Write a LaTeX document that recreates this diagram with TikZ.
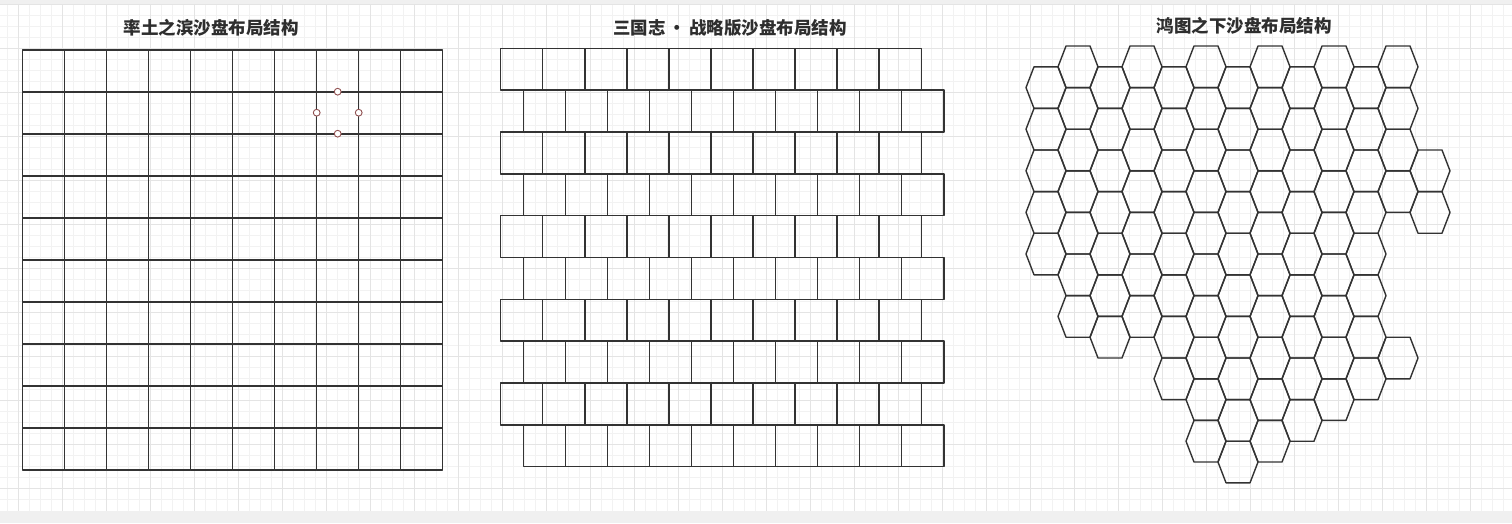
\documentclass[tikz,border=0pt]{standalone}
\usepackage{fontspec}
\newfontfamily\cjk{Noto Sans CJK SC}
\definecolor{ln}{HTML}{333333}
\definecolor{gminor}{HTML}{F2F2F2}
\definecolor{gmajor}{HTML}{E4E4E4}
\definecolor{band}{HTML}{F0F0F0}
\definecolor{ptc}{HTML}{8F4F4F}
\definecolor{txt}{HTML}{2E2E2E}
\begin{document}
\begin{tikzpicture}[x=1pt,y=-1pt,line join=round,
  cell/.style={draw=ln,line width=1.4pt},
  minorline/.style={draw=gminor,line width=0.9pt},
  majorline/.style={draw=gmajor,line width=1pt},
  ptcircle/.style={draw=ptc,fill=white,line width=0.9pt},
  ttl/.style={font=\cjk\bfseries\fontsize{17.5}{20}\selectfont,text=txt,inner sep=0pt},
  hex/.pic={\path[cell] (0,20.8) -- (8,0) -- (32,0) -- (40,20.8) -- (32,41.6) -- (8,41.6) -- cycle;}]
\fill[white] (0,0) rectangle (1512,523);
\useasboundingbox (0,0) rectangle (1512,523);
% background grid
\foreach \k in {0,...,136} \draw[minorline] ({7.7+11*\k},4) -- ({7.7+11*\k},510.7);
\foreach \k in {0,...,45} \draw[minorline] (0,{4.3+11*\k}) -- (1512,{4.3+11*\k});
\foreach \k in {0,...,33} \draw[majorline] ({18.7+44*\k},4) -- ({18.7+44*\k},510.7);
\foreach \k in {0,...,11} \draw[majorline] (0,{4.3+44*\k}) -- (1512,{4.3+44*\k});
\fill[band] (0,0) rectangle (1512,3.5);
\fill[band] (0,510.7) rectangle (1512,523);
% titles
\node[ttl] (t1) at (211,28) {率土之滨沙盘布局结构};
\node[ttl] (t2) at (730,28) {三国志\,•\,战略版沙盘布局结构};
\node[ttl] (t3) at (1244,26) {鸿图之下沙盘布局结构};
% square grid
\foreach \i in {0,...,9} \foreach \j in {0,...,9}
  \draw[cell] ({22.7+42*\i},{50+42*\j}) rectangle ++(42,42);
\draw[ptcircle] (337.7,91.7) circle (3.4);
\draw[ptcircle] (316.7,112.7) circle (3.4);
\draw[ptcircle] (358.7,112.7) circle (3.4);
\draw[ptcircle] (337.7,133.7) circle (3.4);
% brick grid
\foreach \j in {0,...,9} {
  \pgfmathsetmacro{\xo}{isodd(\j) ? 523.3 : 500.7}
  \foreach \i in {0,...,9}
    \draw[cell] ({\xo+42.05*\i},{48.3+41.84*\j}) rectangle ++(42.05,41.84);
}
% hex grid
\foreach \c/\rs in {0/{0,1,2,3,4},1/{0,1,2,3,4,5,6},2/{0,1,2,3,4,5,6},3/{0,1,2,3,4,5,6},
  4/{0,1,2,3,4,5,6,7},5/{0,1,2,3,4,5,6,7,8,9},6/{0,1,2,3,4,5,6,7,8,9},7/{0,1,2,3,4,5,6,7,8,9},
  8/{0,1,2,3,4,5,6,7,8},9/{0,1,2,3,4,5,6,7,8},10/{0,1,2,3,4,5,6,7},11/{0,1,2,3,7},12/{2,3}} {
  \foreach \r in \rs {
    \pgfmathsetmacro{\yt}{66.8-20.8*mod(\c,2)+41.6*\r}
    \pic at ({1026+32*\c},\yt) {hex};
  }
}
\end{tikzpicture}
\end{document}
